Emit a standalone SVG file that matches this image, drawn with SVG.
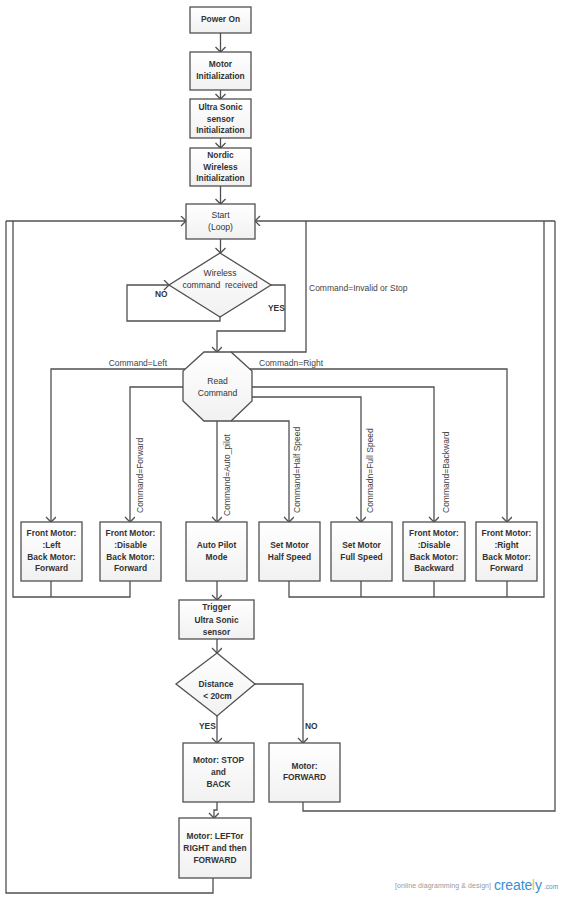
<svg xmlns="http://www.w3.org/2000/svg" width="561" height="900" viewBox="0 0 561 900">
<defs>
<linearGradient id="g" x1="0" y1="0" x2="0" y2="1"><stop offset="0" stop-color="#ffffff"/><stop offset="1" stop-color="#f1f1f1"/></linearGradient>
<marker id="a" markerWidth="12" markerHeight="12" refX="6" refY="5" orient="auto" markerUnits="userSpaceOnUse" viewBox="0 0 12 12"><path d="M1,0 L6,5 L1,10" fill="none" stroke="#505050" stroke-width="1.3"/></marker>
<style>
.b{fill:url(#g);stroke:#505050;stroke-width:1.3}
.t{font-family:"Liberation Sans",Arial,sans-serif;font-size:8.4px;font-weight:bold;fill:#333;text-anchor:middle}
.r{font-weight:normal;font-size:8.6px}
.l{font-family:"Liberation Sans",Arial,sans-serif;font-size:8.5px;fill:#444}
.lb{font-family:"Liberation Sans",Arial,sans-serif;font-size:8.4px;font-weight:bold;fill:#333}
.c{fill:none;stroke:#505050;stroke-width:1.3}
.m{marker-end:url(#a)}
</style>
</defs>
<rect width="561" height="900" fill="#ffffff"/>
<g id="connectors">
<path class="c m" d="M220.5,33 V52"/>
<path class="c m" d="M220.5,90 V99"/>
<path class="c m" d="M220.5,138 V148"/>
<path class="c m" d="M220.5,186 V204"/>
<path class="c m" d="M220.5,239 V253"/>
<path class="c m" d="M220,317 V321 H127 V285 H169"/>
<path class="c m" d="M271,285 H285 V331 H217 V352"/>
<path class="c" d="M231,352 H306 V221"/>
<path class="c m" d="M185,369 H51 V522"/>
<path class="c m" d="M183,387 H130 V522"/>
<path class="c m" d="M217,421 V522"/>
<path class="c m" d="M231,421 H289 V522"/>
<path class="c m" d="M250,369 H507 V522"/>
<path class="c m" d="M252,387 H434 V522"/>
<path class="c m" d="M252,397 H361 V522"/>
<path class="c m" d="M6,221 H186"/>
<path class="c" d="M13,221 V597 H130 V581"/>
<path class="c" d="M51,581 V597"/>
<path class="c m" d="M555,221 H255"/>
<path class="c" d="M544,221 V597 H289 V581"/>
<path class="c" d="M361,581 V597 M434,581 V597 M507,581 V597"/>
<path class="c m" d="M217,581 V600"/>
<path class="c m" d="M217,639 V653"/>
<path class="c m" d="M217,716 V743"/>
<path class="c m" d="M255,684 H303 V743"/>
<path class="c m" d="M217,802 V810 H214 V818"/>
<path class="c" d="M213,878 V893 H6 V221"/>
<path class="c" d="M303,802 V811 H555 V221"/>
</g>
<g id="labels">
<text class="lb" x="155" y="297">NO</text>
<text class="lb" x="268" y="311">YES</text>
<text class="l" x="309" y="291">Command=Invalid or Stop</text>
<text class="l" x="167" y="366" text-anchor="end">Command=Left</text>
<text class="l" x="259" y="366">Commadn=Right</text>
<text class="l" x="143" y="513" transform="rotate(-90 143 513)">Command=Forward</text>
<text class="l" x="229.5" y="516" transform="rotate(-90 229.5 516)">Command=Auto_pilot</text>
<text class="l" x="300" y="513" transform="rotate(-90 300 513)">Command=Half Speed</text>
<text class="l" x="372.5" y="513" transform="rotate(-90 372.5 513)">Commadn=Full Speed</text>
<text class="l" x="448.5" y="513" transform="rotate(-90 448.5 513)">Command=Backward</text>
<text class="lb" x="199" y="729">YES</text>
<text class="lb" x="305" y="729">NO</text>
</g>
<g id="power-on"><rect class="b" x="190" y="7" width="61" height="26"/><text class="t" x="220.5" y="22">Power On</text></g>
<g id="motor-init"><rect class="b" x="190" y="52" width="61" height="38"/><text class="t" x="220.5" y="67">Motor</text><text class="t" x="220.5" y="79">Initialization</text></g>
<g id="ultrasonic-init"><rect class="b" x="190" y="99" width="61" height="39"/><text class="t" x="220.5" y="110">Ultra Sonic</text><text class="t" x="220.5" y="121.5">sensor</text><text class="t" x="220.5" y="133">Initialization</text></g>
<g id="nordic-init"><rect class="b" x="190" y="148" width="61" height="38"/><text class="t" x="220.5" y="158">Nordic</text><text class="t" x="220.5" y="169.7">Wireless</text><text class="t" x="220.5" y="181.3">Initialization</text></g>
<g id="start"><rect class="b" x="186" y="204" width="69" height="35"/><text class="t r" x="220.5" y="218">Start</text><text class="t r" x="220.5" y="229.7">(Loop)</text></g>
<g id="wireless"><polygon class="b" points="220,253 271,285 220,317 169,285"/><text class="t r" x="220" y="276">Wireless</text><text class="t r" x="220" y="287.7" xml:space="preserve">command  received</text></g>
<g id="read-command"><polygon class="b" points="204,352 231,352 252,371 252,401 231,421 204,421 183,401 183,371"/><text class="t r" x="217.5" y="384">Read</text><text class="t r" x="217.5" y="395.5">Command</text></g>
<g id="cmd-left"><rect class="b" x="21" y="522" width="61" height="59"/><text class="t" x="51.5" y="536.3">Front Motor:</text><text class="t" x="51.5" y="548">:Left</text><text class="t" x="51.5" y="559.7">Back Motor:</text><text class="t" x="51.5" y="571.3">Forward</text></g>
<g id="cmd-forward"><rect class="b" x="100" y="522" width="61" height="59"/><text class="t" x="130.5" y="536.3">Front Motor:</text><text class="t" x="130.5" y="548">:Disable</text><text class="t" x="130.5" y="559.7">Back Motor:</text><text class="t" x="130.5" y="571.3">Forward</text></g>
<g id="auto-pilot"><rect class="b" x="186" y="522" width="61" height="59"/><text class="t" x="216.5" y="548">Auto Pilot</text><text class="t" x="216.5" y="559.7">Mode</text></g>
<g id="half-speed"><rect class="b" x="259" y="522" width="61" height="59"/><text class="t" x="289.5" y="548">Set Motor</text><text class="t" x="289.5" y="559.7">Half Speed</text></g>
<g id="full-speed"><rect class="b" x="331" y="522" width="61" height="59"/><text class="t" x="361.5" y="548">Set Motor</text><text class="t" x="361.5" y="559.7">Full Speed</text></g>
<g id="cmd-backward"><rect class="b" x="403" y="522" width="62" height="59"/><text class="t" x="434" y="536.3">Front Motor:</text><text class="t" x="434" y="548">:Disable</text><text class="t" x="434" y="559.7">Back Motor:</text><text class="t" x="434" y="571.3">Backward</text></g>
<g id="cmd-right"><rect class="b" x="476" y="522" width="61" height="59"/><text class="t" x="506.5" y="536.3">Front Motor:</text><text class="t" x="506.5" y="548">:Right</text><text class="t" x="506.5" y="559.7">Back Motor:</text><text class="t" x="506.5" y="571.3">Forward</text></g>
<g id="trigger"><rect class="b" x="179" y="600" width="75" height="39"/><text class="t" x="216.5" y="610">Trigger</text><text class="t" x="216.5" y="622.7">Ultra Sonic</text><text class="t" x="216.5" y="635">sensor</text></g>
<g id="distance"><polygon class="b" points="217,653 255,684 217,716 176,684"/><text class="t" x="216" y="687">Distance</text><text class="t" x="217.5" y="699">&lt; 20cm</text></g>
<g id="motor-stop"><rect class="b" x="183" y="743" width="71" height="59"/><text class="t" x="218.5" y="763">Motor: STOP</text><text class="t" x="218.5" y="775">and</text><text class="t" x="218.5" y="787">BACK</text></g>
<g id="motor-forward"><rect class="b" x="269" y="743" width="71" height="59"/><text class="t" x="304.5" y="768.7">Motor:</text><text class="t" x="304.5" y="780.3">FORWARD</text></g>
<g id="motor-turn"><rect class="b" x="179" y="818" width="72" height="60"/><text class="t" x="215" y="839">Motor: LEFTor</text><text class="t" x="215" y="851">RIGHT and then</text><text class="t" x="215" y="863">FORWARD</text></g>
<g id="watermark">
<text x="395" y="888" font-family="Liberation Sans, Arial, sans-serif" font-size="7px" fill="#999" textLength="96">[online diagramming &amp; design]</text>
<text x="494" y="890" font-family="Liberation Sans, Arial, sans-serif" font-size="14px" fill="#3b8fd4" textLength="48">create<tspan fill="#f2c230">l</tspan>y</text>
<text x="544" y="889" font-family="Liberation Sans, Arial, sans-serif" font-size="6.5px" fill="#6a8fb5">.com</text>
</g>
</svg>
